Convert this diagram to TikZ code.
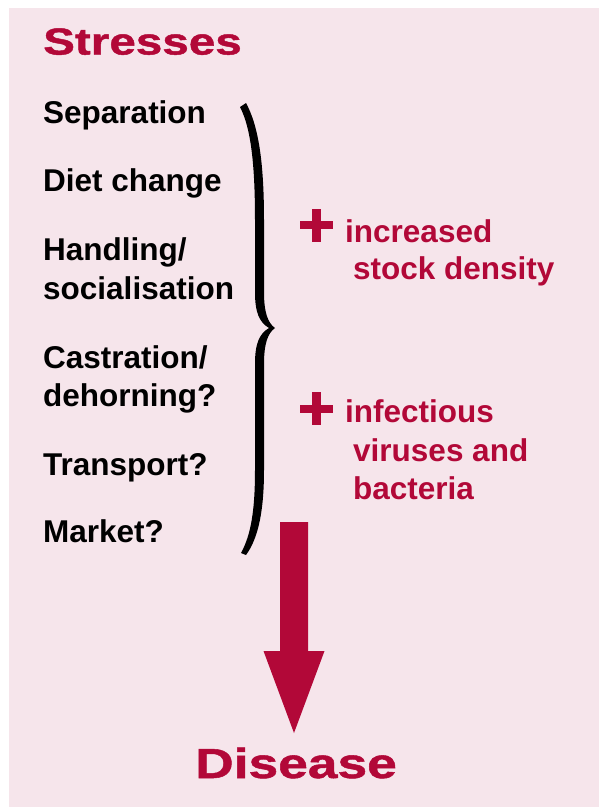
\documentclass[tikz,border=0pt]{standalone}
\usepackage{fontspec}
\setmainfont{Liberation Sans}
\newfontfamily\widefont[FakeStretch=1.27,FakeBold=1.2]{Liberation Sans}
\usetikzlibrary{calc}

\definecolor{crimson}{RGB}{178,8,56}
\definecolor{blush}{RGB}{246,229,235}

\tikzset{
  stress/.style={anchor=base west,inner sep=0pt,font=\fontsize{31.5}{38}\selectfont\bfseries},
  extra/.style={stress,text=crimson},
  heading/.style={anchor=base west,inner sep=0pt,text=crimson,font=\fontsize{#1}{#1}\selectfont\widefont\bfseries},
  plus/.style={fill=crimson}
}

\begin{document}
\begin{tikzpicture}[x=1pt,y=-1pt]

\pgfmathsetmacro{\textX}{43}
\pgfmathsetmacro{\plusX}{316.5}
\pgfmathsetmacro{\plusA}{225}
\pgfmathsetmacro{\plusB}{408.5}

\useasboundingbox (0,0) rectangle (599,807);
\fill[blush] (9,8) rectangle (599,807);

\node[heading=37.5] (title) at (\textX,54.5) {Stresses};

\node[stress] (sep)   at (\textX,123) {Separation};
\node[stress] (diet)  at (\textX,191) {Diet change};
\node[stress] (hand)  at (\textX,260) {Handling/};
\node[stress] (soc)   at (\textX,299) {socialisation};
\node[stress] (cast)  at (\textX,368) {Castration/};
\node[stress] (dehorn) at (\textX,406) {dehorning?};
\node[stress] (trans) at (\textX,475) {Transport?};
\node[stress] (market) at (\textX,542) {Market?};

% brace
\fill (246,103) .. controls (258,125) and (264,160) .. (264,220) -- (264,292)
  .. controls (264,313) and (268,323) .. (275,328)
  .. controls (268,333) and (264,343) .. (264,364) -- (264,470)
  .. controls (264,515) and (257,540) .. (246,555) -- (241,553)
  .. controls (251,535) and (255,510) .. (255,470) -- (255,364)
  .. controls (255,344) and (259,334) .. (269,328)
  .. controls (259,322) and (255,312) .. (255,292) -- (255,220)
  .. controls (255,165) and (251,128) .. (240,107) -- cycle;

\fill[plus] (\plusX-16.5,\plusA-4) rectangle (\plusX+16.5,\plusA+4);
\fill[plus] (\plusX-4.5,\plusA-16.5) rectangle (\plusX+4.5,\plusA+16.5);
\fill[plus] (\plusX-16.5,\plusB-4) rectangle (\plusX+16.5,\plusB+4);
\fill[plus] (\plusX-4.5,\plusB-16.5) rectangle (\plusX+4.5,\plusB+16.5);

\node[extra] (dens)  at (345,242) {increased};
\node[extra] (densb) at (353,279) {stock density};
\node[extra] (inf)   at (345,422) {infectious};
\node[extra] (infb)  at (353,461) {viruses and};
\node[extra] (infc)  at (353,499) {bacteria};

% arrow
\coordinate (top) at (294,522);
\coordinate (tip) at (294,733);
\fill[crimson] ($(top)+(-14,0)$) -- ($(top)+(14,0)$) -- ($(top)+(14,129)$) -- ($(top)+(30.5,129)$)
  -- (tip) -- ($(top)+(-30.5,129)$) -- ($(top)+(-14,129)$) -- cycle;

\node[heading=42] (disease) at (195,778) {Disease};

\end{tikzpicture}
\end{document}
